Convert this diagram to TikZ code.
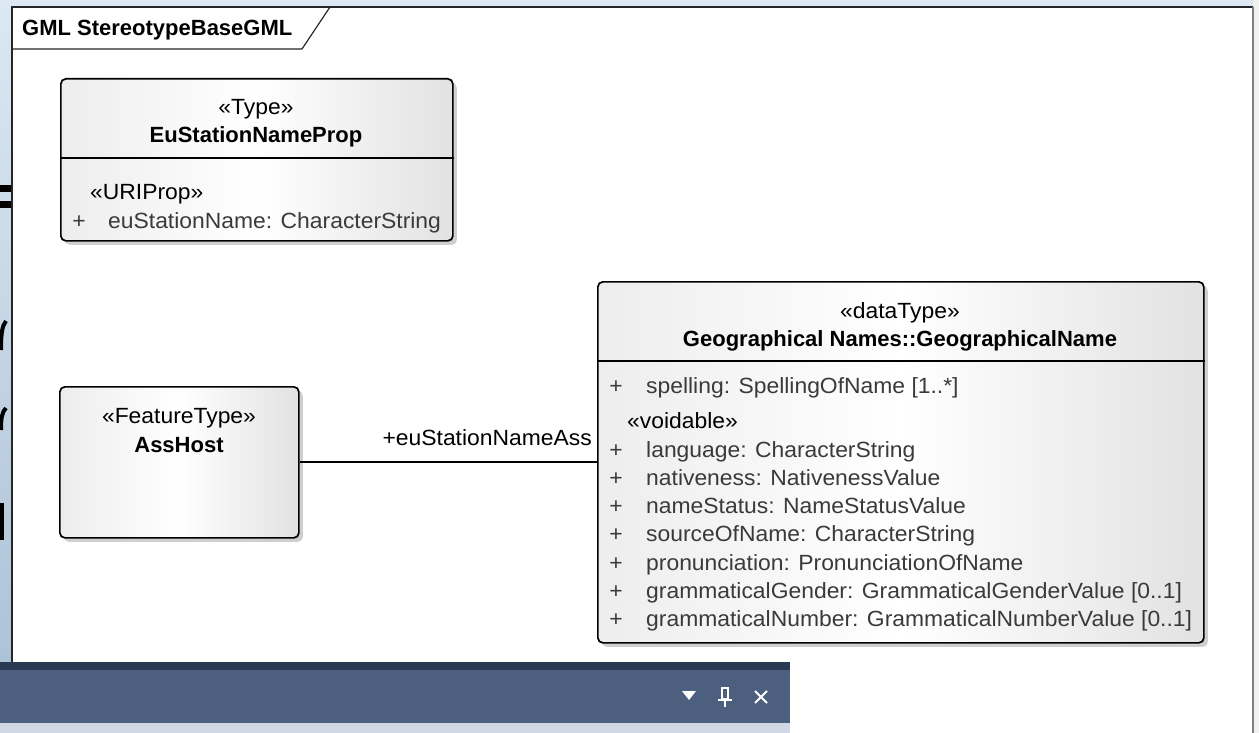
\documentclass[tikz,border=0pt]{standalone}
\usepackage{fontspec}
\setmainfont{Liberation Sans}
\newfontfamily\attrfont{Liberation Sans}[FakeStretch=1.04]
\usetikzlibrary{shadows}

\definecolor{barnavy}{HTML}{4C5F7F}
\definecolor{bardark}{HTML}{2A3A55}
\definecolor{barlight}{HTML}{D0D8E6}
\definecolor{shadowgray}{HTML}{CFCFCF}
\definecolor{framegray}{HTML}{7F7F7F}
\definecolor{deskA}{HTML}{DCE8F3}
\definecolor{deskB}{HTML}{A8BFD4}
\definecolor{attrgray}{HTML}{3A3A3A}
\definecolor{boxL}{HTML}{EDEDED}
\definecolor{boxM}{HTML}{FFFFFF}
\definecolor{boxR}{HTML}{E2E2E2}

\begin{document}
\begin{tikzpicture}[x=1pt,y=-1pt,
  umlbox/.style={draw=black, line width=1.7pt, rounded corners=5pt,
    shading=axis, shading angle=90, left color=boxL, right color=boxR, middle color=boxM,
    drop shadow={shadow xshift=4pt, shadow yshift=-4pt, fill=shadowgray, opacity=1},
    inner sep=0pt, anchor=north west},
  divider/.style={line width=1.7pt},
  stereo/.style={font=\attrfont\fontsize{22}{26}\selectfont, text=black, inner sep=0pt},
  clsname/.style={font=\fontsize{22}{26}\selectfont\bfseries, text=black, inner sep=0pt},
  attr/.style={font=\attrfont\fontsize{22}{26}\selectfont, text=attrgray, inner sep=0pt, anchor=base west},
  vis/.style={font=\attrfont\fontsize{22}{26}\selectfont, text=attrgray, inner sep=0pt, anchor=base},
  icon/.style={white, line width=2pt}
]
\useasboundingbox (0,0) rectangle (1259,733);

% desktop behind the diagram window
\fill[deskA] (0,0) rectangle (1259,733);
\fill[white!94!black] (1253,0) rectangle (1259,733);
\shade[top color=deskA, bottom color=deskB] (0,0) rectangle (12,733);
\fill[black] (0,185) rectangle (11,192);
\fill[black] (0,201) rectangle (11,208);
\draw[black, line width=4pt] (6,321) .. controls (2,326) and (1,334) .. (1,350);
\draw[black, line width=4pt] (6,408) .. controls (2,412) and (1,418) .. (1,430);
\draw[black, line width=4pt] (2,503) -- (2,540);

% diagram frame with its name tab
\fill[white] (12,7) rectangle (1253,733);
\draw[black!85, line width=1.2pt] (12,733) -- (12,7) -- (1253,7);
\draw[framegray, line width=2pt] (1253,7) -- (1253,733);
\draw[black!85, line width=1.2pt] (12,49) -- (302,49) -- (330,7);
\node[clsname, anchor=base west] (tab) at (22,36) {GML StereotypeBaseGML};

% class EuStationNameProp
\node[umlbox, minimum width=392pt, minimum height=162pt] (eu) at (60,78) {};
\draw[divider] ([yshift=-80pt]eu.north west) -- ([yshift=-80pt]eu.north east);
\node[stereo, anchor=base] (euSt) at (256,115) {«Type»};
\node[clsname, anchor=base] (euNm) at (256,143) {EuStationNameProp};
\node[stereo, anchor=base west] (euUri) at (90,200) {«URIProp»};
\node[vis] (euP1) at (79,228) {+};
\node[attr] (euA1) at (108,228) {euStationName: CharacterString};

% class AssHost
\node[umlbox, minimum width=239pt, minimum height=151pt] (host) at (59,386) {};
\node[stereo, anchor=base] (hostSt) at (179,423) {«FeatureType»};
\node[clsname, anchor=base] (hostNm) at (179,452) {AssHost};

% data type GeographicalName
\node[umlbox, minimum width=606pt, minimum height=361pt] (geo) at (597,281) {};
\draw[divider] ([yshift=-80pt]geo.north west) -- ([yshift=-80pt]geo.north east);
\node[stereo, anchor=base] (geoSt) at (900,318) {«dataType»};
\node[clsname, anchor=base] (geoNm) at (900,346) {Geographical Names::GeographicalName};
\node[vis] (geoP1) at (616,393) {+};
\node[attr] (geoA1) at (646,393) {spelling: SpellingOfName [1..*]};
\node[stereo, anchor=base west] (geoVo) at (627,428) {«voidable»};
\node[vis] (geoP2) at (616,457) {+};
\node[attr] (geoA2) at (646,457) {language: CharacterString};
\node[vis] (geoP3) at (616,485.3) {+};
\node[attr] (geoA3) at (646,485.3) {nativeness: NativenessValue};
\node[vis] (geoP4) at (616,513.6) {+};
\node[attr] (geoA4) at (646,513.6) {nameStatus: NameStatusValue};
\node[vis] (geoP5) at (616,541.9) {+};
\node[attr] (geoA5) at (646,541.9) {sourceOfName: CharacterString};
\node[vis] (geoP6) at (616,570.2) {+};
\node[attr] (geoA6) at (646,570.2) {pronunciation: PronunciationOfName};
\node[vis] (geoP7) at (616,598.5) {+};
\node[attr] (geoA7) at (646,598.5) {grammaticalGender: GrammaticalGenderValue [0..1]};
\node[vis] (geoP8) at (616,626.8) {+};
\begin{scope}
  \clip (597,600) rectangle (1202,642);
  \node[attr] (geoA8) at (646,626.8) {grammaticalNumber: GrammaticalNumberValue [0..1]};
\end{scope}

% association
\draw[line width=2pt] (host.east) -- (host.east -| geo.west);
\node[stereo, anchor=base east] (assLbl) at (592,445) {+euStationNameAss};

% docked window title bar
\fill[bardark] (0,662) rectangle (790,670);
\fill[barnavy] (0,670) rectangle (790,723);
\fill[barlight] (0,723) rectangle (790,733);
\fill[white] (682,691) -- (696,691) -- (689,700) -- cycle;
\draw[icon, line width=1.6pt] (722,688) rectangle (728,699);
\draw[icon, line width=1.8pt] (718,700) -- (732,700);
\draw[icon, line width=1.6pt] (725,700) -- (725,707);
\draw[icon] (755,691) -- (767,703);
\draw[icon] (767,691) -- (755,703);
\end{tikzpicture}
\end{document}
